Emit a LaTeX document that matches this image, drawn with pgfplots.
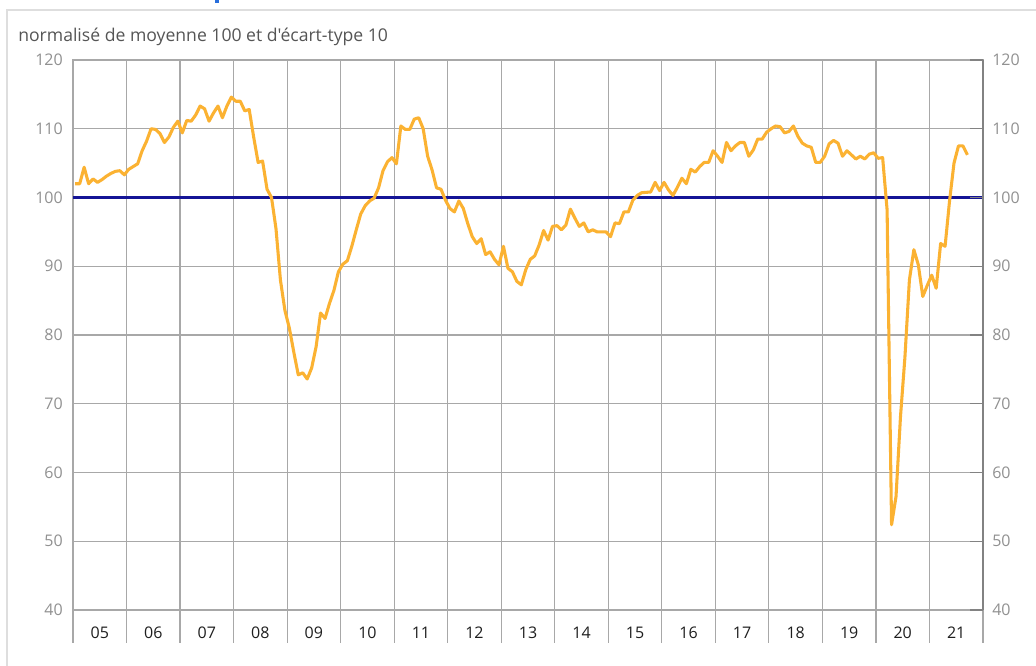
\documentclass[border=0pt]{standalone}
\usepackage{fontspec}
\setmainfont{Open Sans}[Ligatures=TeXOff]
\usepackage{pgfplots}
\pgfplotsset{compat=1.18}
\usepackage{pgfplotstable}
\definecolor{serie}{RGB}{251,178,50}
\definecolor{navyl}{RGB}{20,20,150}
\definecolor{gridg}{RGB}{168,168,168}
\definecolor{tickg}{RGB}{130,130,130}
\definecolor{labg}{RGB}{145,145,145}
\definecolor{titg}{RGB}{85,85,85}
\definecolor{frameg}{RGB}{222,222,222}
\definecolor{bluet}{RGB}{40,110,220}

\pgfplotstableread{
v
102.0
102.0
104.4
102.0
102.7
102.2
102.6
103.1
103.5
103.8
103.9
103.3
104.1
104.5
104.9
106.8
108.2
110.0
109.9
109.3
108.0
108.8
110.2
111.1
109.4
111.2
111.1
112.0
113.3
112.9
111.1
112.3
113.3
111.6
113.3
114.6
114.0
114.0
112.6
112.8
108.8
105.1
105.3
101.2
100.0
95.5
88.0
83.6
81.0
77.5
74.2
74.5
73.6
75.2
78.3
83.2
82.4
84.6
86.5
89.2
90.3
90.8
92.9
95.3
97.6
98.8
99.5
99.9
101.4
103.9
105.2
105.8
104.9
110.4
109.9
109.9
111.4
111.6
110.0
106.0
104.0
101.4
101.2
99.6
98.4
97.9
99.5
98.4
96.2
94.3
93.3
94.0
91.7
92.1
91.0
90.2
92.9
89.7
89.2
87.8
87.3
89.5
91.0
91.5
93.1
95.2
93.8
95.8
95.9
95.3
96.0
98.3
97.0
95.8
96.3
95.0
95.3
95.0
95.0
95.0
94.3
96.3
96.2
97.9
97.9
99.6
100.3
100.7
100.75
100.8
102.2
101.0
102.2
101.1
100.3
101.5
102.8
102.0
104.1
103.7
104.5
105.1
105.1
106.8
106.0
105.1
108.0
106.8
107.5
108.0
108.0
106.0
106.9
108.5
108.5
109.5
110.0
110.4
110.3
109.4
109.6
110.4
108.9
107.9
107.5
107.3
105.1
105.1
106.0
107.8
108.3
107.9
106.0
106.8
106.2
105.6
106.0
105.6
106.3
106.5
105.7
105.8
98.2
52.4
56.5
68.1
76.8
88.0
92.4
90.2
85.6
87.2
88.7
86.8
93.3
92.9
99.5
105.0
107.5
107.5
106.2
}\data

\begin{document}
\begin{tikzpicture}
\useasboundingbox (0,0) rectangle (777pt,499.5pt);
\fill[white] (0,0) rectangle (777pt,499.5pt);
\draw[frameg, line width=1.5pt] (5.25pt,0) -- (5.25pt,492pt) -- (777pt,492pt);
\fill[bluet] (161.5pt,497.3pt) rectangle (164pt,499.5pt);
\node[anchor=base west, inner sep=0pt, text=titg, font=\fontsize{13.2}{15}\selectfont] at (13.5pt,468pt) {normalisé de moyenne 100 et d'écart-type 10};

\begin{axis}[
  at={(54.75pt,42pt)}, anchor=south west,
  scale only axis, width=682.5pt, height=412.5pt,
  xmin=0, xmax=204, ymin=40, ymax=120,
  axis line style={draw=gridg, line width=0.9pt},
  ytick={40,50,...,120},
  ymajorgrids, xmajorgrids,
  grid style={draw=gridg, line width=0.9pt},
  xtick={0,12,...,204},
  xticklabels={},
  xtick pos=bottom,
  xtick align=outside,
  major tick length=24.75pt,
  x tick style={draw=gridg, line width=0.9pt},
  y tick style={draw=none},
  extra x ticks={6,18,...,198},
  extra x tick labels={05,06,07,08,09,10,11,12,13,14,15,16,17,18,19,20,21},
  extra x tick style={grid=none, major tick length=0pt, tick style={draw=none}},
  xticklabel style={anchor=center, inner sep=0pt, yshift=-17.25pt, text=black!88, font=\fontsize{12}{14}\selectfont},
  yticklabel pos=left,
  yticklabel style={anchor=east, inner sep=0pt, xshift=-7.5pt, text=labg, font=\fontsize{12}{14}\selectfont},
  /pgf/number format/assume math mode=true,
]
\addplot[draw=navyl, line width=1.55pt, forget plot] coordinates {(0,100) (204,100)};
\addplot[serie, line width=2.3pt, line join=round, no markers] table[x expr=\coordindex+0.5, y=v] {\data};
\end{axis}

\begin{axis}[
  at={(54.75pt,42pt)}, anchor=south west,
  scale only axis, width=682.5pt, height=412.5pt,
  xmin=0, xmax=204, ymin=40, ymax=120,
  hide x axis,
  axis y line*=right,
  axis line style={draw=tickg, line width=0.9pt, -},
  ytick={40,50,...,120},
  ytick pos=right,
  yticklabel pos=right,
  tick align=inside,
  major tick length=10pt,
  y tick style={draw=tickg, line width=0.9pt},
  yticklabel style={anchor=west, inner sep=0pt, xshift=6.75pt, text=labg, font=\fontsize{12}{14}\selectfont},
  /pgf/number format/assume math mode=true,
]
\end{axis}
\end{tikzpicture}
\end{document}
